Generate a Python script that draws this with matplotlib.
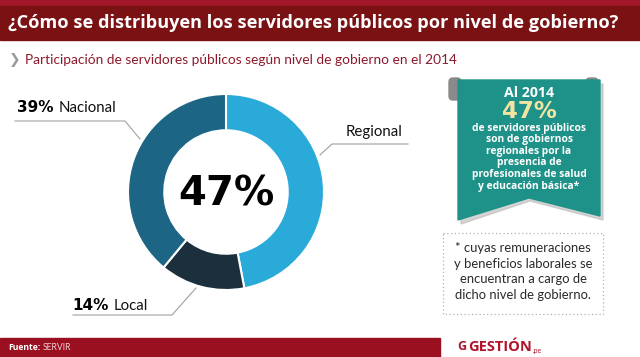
import matplotlib
matplotlib.use("Agg")
import matplotlib.pyplot as plt
from matplotlib.patches import Rectangle, Polygon, FancyBboxPatch

# ---- data ----
categories = ["Regional", "Local", "Nacional"]
values = [47, 14, 39]
colors = ["#2aaad9", "#1b2f3d", "#1c6584"]
center_label = "47%"

title = "¿Cómo se distribuyen los servidores públicos por nivel de gobierno?"
subtitle = "Participación de servidores públicos según nivel de gobierno en el 2014"
ribbon_lines = ["de servidores públicos", "son de gobiernos", "regionales por la",
                "presencia de", "profesionales de salud", "y educación básica*"]
note_lines = ["* cuyas remuneraciones", "y beneficios laborales se",
              "encuentran a cargo de", "dicho nivel de gobierno."]
source = "SERVIR"

W, H = 640, 357
plt.rcParams['font.family'] = ['Lato', 'DejaVu Sans']
fig = plt.figure(figsize=(W / 100, H / 100), dpi=100)
fig.patch.set_facecolor("white")

ov = fig.add_axes([0, 0, 1, 1])
ov.set_xlim(0, W)
ov.set_ylim(H, 0)
ov.axis("off")

BOLD = ["Open Sans", "DejaVu Sans"]
HEAVY = ["DejaVu Sans"]

# header
ov.add_patch(Rectangle((0, 0), W, 6, color="#a3172b", zorder=1))
ov.add_patch(Rectangle((0, 6), W, 34, color="#7a1214", zorder=1))
ov.text(8, 23, title, color="white", fontsize=13.1, fontweight="bold", family=BOLD,
        va="center", ha="left", zorder=3)

# subtitle
ov.text(9, 60, "❯", color="#9a9a9a", fontsize=10, va="center", ha="left",
        family=["DejaVu Sans"], zorder=3)
ov.text(25, 60, subtitle, color="#8e1a2b", fontsize=9.95, va="center", ha="left", zorder=3)

# footer
ov.add_patch(Rectangle((0, 338), 440, 19, color="#9b1020", zorder=1))

fig.canvas.draw()
r = fig.canvas.get_renderer()

def right_of(t, gap):
    bb = t.get_window_extent(renderer=r)
    return ov.transData.inverted().transform((bb.x1, 0))[0] + gap

t1 = ov.text(8, 348, "Fuente:", color="white", fontsize=6.2, fontweight="bold", family=BOLD,
             va="center", ha="left")
ov.text(right_of(t1, 2), 348, source, color="#f0d0d0", fontsize=6.2, va="center", ha="left")
tg = ov.text(457, 347, "G", color="#b0132a", fontsize=9, fontweight="bold", family=BOLD,
             va="center", ha="left")
tgs = ov.text(right_of(tg, 2), 347, "GESTIÓN", color="#b0132a", fontsize=10.5, fontweight="bold",
              family=BOLD, va="center", ha="left")
ov.text(right_of(tgs, 1), 350, ".pe", color="#b0132a", fontsize=5, va="center", ha="left")

# donut
cx, cy, R = 226, 192, 98
dax = fig.add_axes([(cx - R) / W, (H - cy - R) / H, 2 * R / W, 2 * R / H])
wedges, _ = dax.pie(values, colors=colors, startangle=90, counterclock=False,
                    wedgeprops=dict(width=0.37, edgecolor="white", linewidth=1.5))
dax.set_xlim(-1, 1)
dax.set_ylim(-1, 1)
dax.set_aspect("equal")
dax.axis("off")
ov.text(cx, cy + 2, center_label, fontsize=29, fontweight="bold", family=HEAVY, color="black",
        ha="center", va="center", zorder=5)

# leader lines
lc = "#a0a0a0"
ov.plot([15, 125, 140], [121, 121, 139], color=lc, lw=0.8)
ov.plot([73, 172, 196], [315, 315, 288], color=lc, lw=0.8)
ov.plot([320, 332, 408], [155, 144, 144], color=lc, lw=0.8)

def pair(x, y, bold, normal):
    t = ov.text(x, y, bold, fontsize=11, fontweight="bold", family=HEAVY, color="black",
                va="center", ha="left")
    ov.text(right_of(t, 5), y + 0.5, normal, fontsize=10.8, color="#111111", va="center", ha="left")

pair(17, 107, f"{values[2]}%", categories[2])
pair(72, 305, f"{values[1]}%", categories[1])
ov.text(374, 132, categories[0], fontsize=10.8, color="#111111", va="center", ha="center")

# ribbon
teal = "#1e9288"
ov.add_patch(FancyBboxPatch((449, 78), 12, 22, boxstyle="round,pad=0,rounding_size=4",
                            color="#8a8a8a", zorder=2))
ov.add_patch(FancyBboxPatch((586, 78), 12, 22, boxstyle="round,pad=0,rounding_size=4",
                            color="#8a8a8a", zorder=2))
shadow = Polygon([(461, 84), (603, 84), (603, 220), (530, 201), (461, 224)],
                 closed=True, color="#b8b8b8", alpha=0.6, zorder=2)
ov.add_patch(shadow)
rib = Polygon([(458, 80), (600, 80), (600, 216), (529, 198), (458, 220)],
              closed=True, color=teal, zorder=3)
ov.add_patch(rib)
rx = 529
ov.text(rx, 93, "Al 2014", color="white", fontsize=10.2, fontweight="bold", family=BOLD,
        ha="center", va="center", zorder=4)
ov.text(rx, 112, center_label, color="#f4e4a2", fontsize=16.5, fontweight="bold", family=HEAVY,
        ha="center", va="center", zorder=4)
for i, ln in enumerate(ribbon_lines):
    ov.text(rx, 128 + i * 11.6, ln, color="white", fontsize=7.4, fontweight="bold", family=BOLD,
            ha="center", va="center", zorder=4)

# note box
ov.add_patch(Rectangle((443, 233), 160, 81, fill=False, edgecolor="#b0b0b0", lw=0.9,
                       linestyle=(0, (1, 2)), zorder=2))
for i, ln in enumerate(note_lines):
    ov.text(523, 248 + i * 15.7, ln, color="#2a2a2a", fontsize=9.4, ha="center", va="center", zorder=4)

fig.savefig("out.png", dpi=100, facecolor="white")
